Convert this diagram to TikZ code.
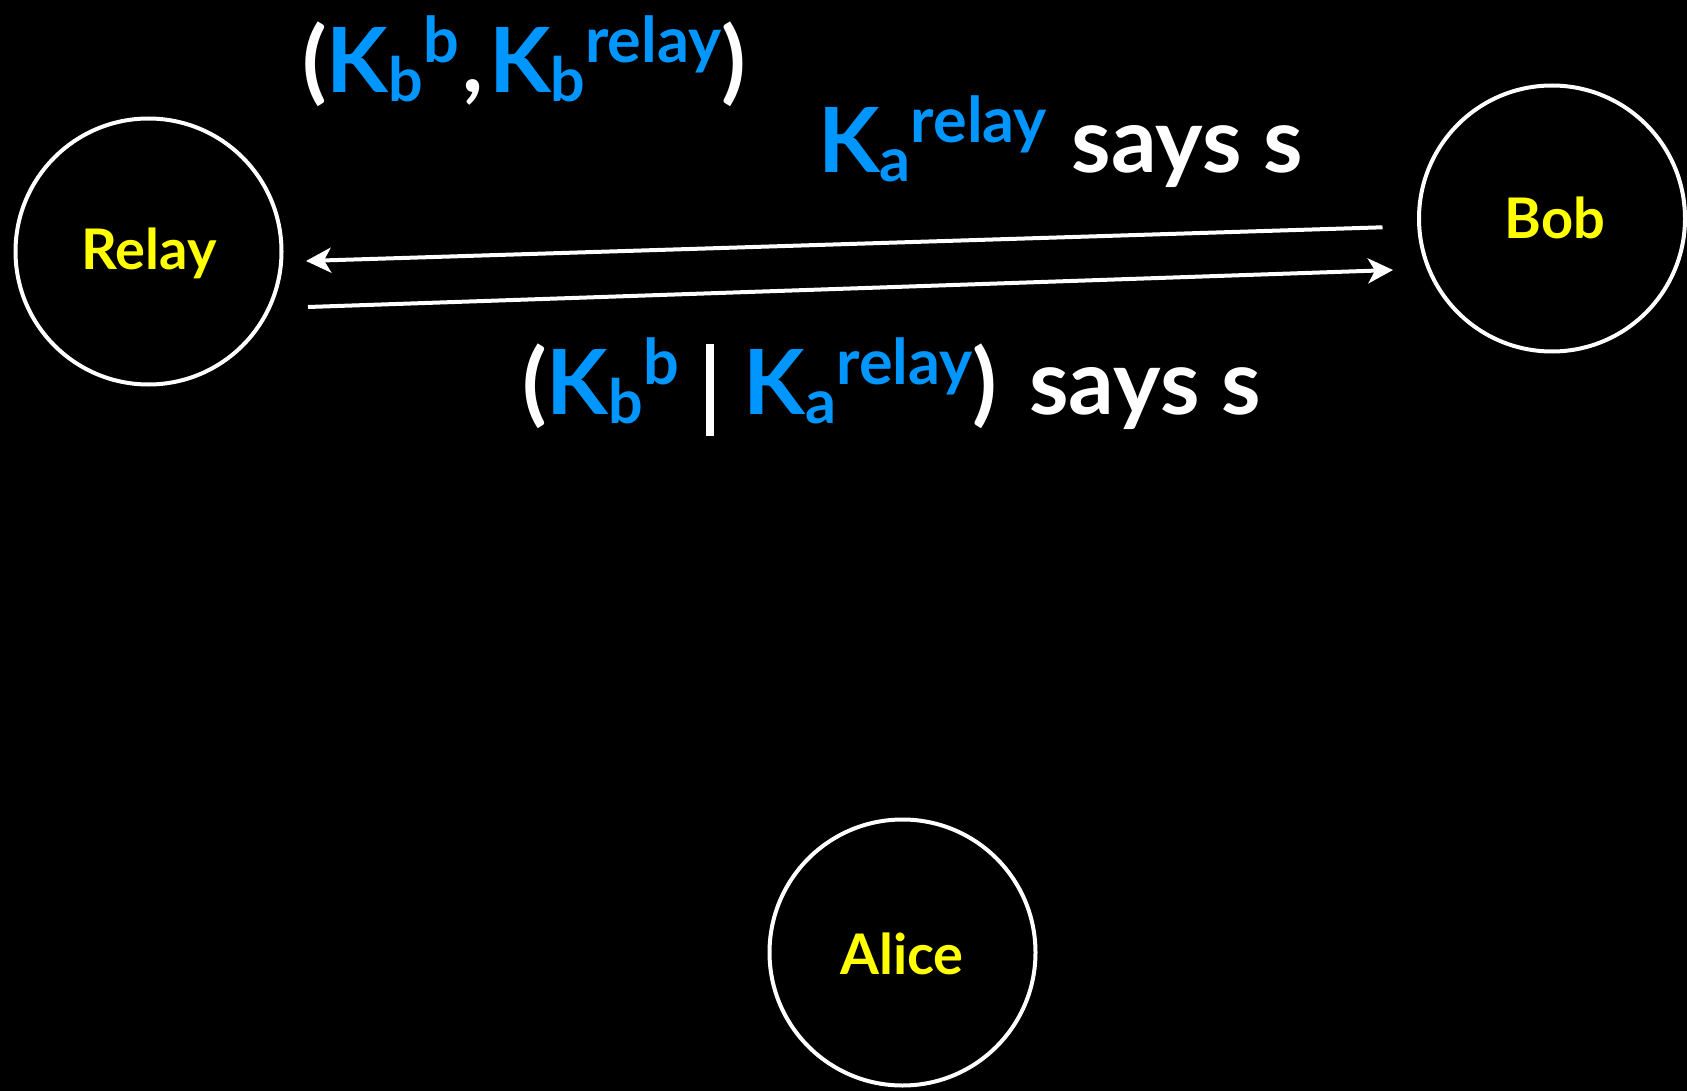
\documentclass[tikz,border=0pt]{standalone}
\usepackage{fontspec}
\setmainfont{Lato}
\usetikzlibrary{arrows.meta}
\definecolor{kblue}{RGB}{0,150,255}
\definecolor{nyellow}{RGB}{255,255,0}
\newcommand{\lsub}[1]{\raisebox{-9pt}{\fontsize{61}{61}\selectfont #1}}
\newcommand{\lsup}[1]{\raisebox{30pt}{\fontsize{63}{63}\selectfont #1}}
\newcommand{\kb}{\color{kblue}}
\newcommand{\kw}{\color{white}}
\tikzset{
  party/.style={circle, draw=white, line width=4pt, minimum size=266pt, inner sep=0pt},
  partytext/.style={anchor=base, inner sep=0pt, text=nyellow, font=\fontsize{56}{60}\selectfont\bfseries},
  msg/.style={draw=white, line width=4pt, -{Stealth[length=25pt,width=25pt,inset=7pt]}},
  lbl/.style={anchor=base west, inner sep=0pt, font=\fontsize{90}{96}\selectfont\bfseries}
}
\begin{document}
\begin{tikzpicture}[x=1pt,y=-1pt]
\fill[black] (0,0) rectangle (1687,1091);
\useasboundingbox (0,0) rectangle (1687,1091);
\node[party] (relay) at (148.5,251.5) {};
\node[party] (bob) at (1552,218.5) {};
\node[party] (alice) at (902.5,952.5) {};
\node[partytext] (relaytxt) at (149,270) {Relay};
\node[partytext] (bobtxt) at (1555,239) {Bob};
\node[partytext] (alicetxt) at (902,974) {Alice};
\coordinate (u1) at (1382.5,227.3);
\coordinate (u2) at (306,261);
\coordinate (l1) at (308,307);
\coordinate (l2) at (1393,270);
\draw[msg] (u1) -- (u2);
\draw[msg] (l1) -- (l2);
\node[lbl] (lab1) at (302,93) {{\kw(}{\kb K\lsub{b}\lsup{b}}\hspace{4pt}{\kw,}\hspace{5pt}{\kb K\lsub{b}\lsup{relay}}{\kw)}};
\node[lbl] (lab2) at (818,173) {{\kb K\lsub{a}\lsup{relay}}\hspace{3pt} {\kw says s}};
\node[lbl] (lab3) at (522,414) {{\kw(}{\kb K\lsub{b}\lsup{b}}\hspace{27pt}{\color{white}\rule[-22pt]{8pt}{92pt}}\hspace{30pt}{\kb K\lsub{a}\lsup{relay}}{\kw)}\hspace{10pt} {\kw says s}};
\end{tikzpicture}
\end{document}
